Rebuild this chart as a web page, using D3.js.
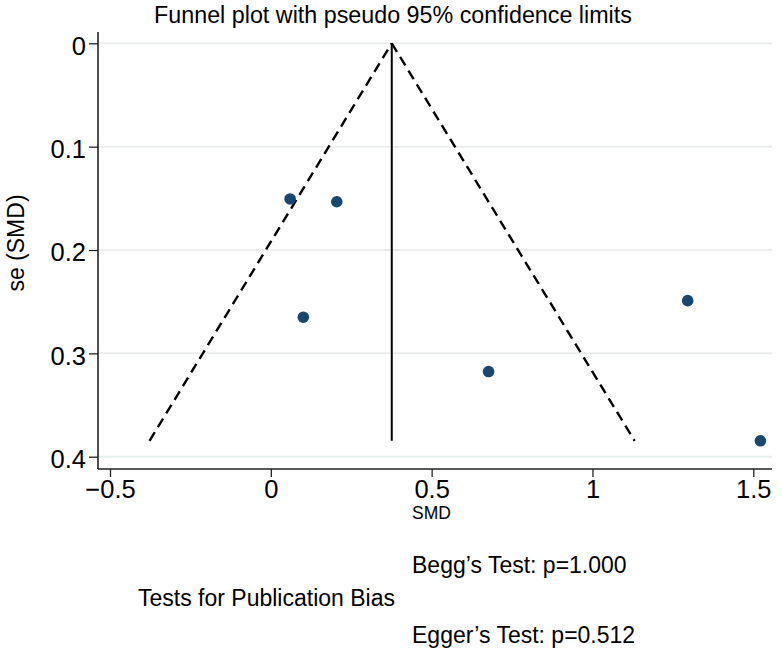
<!DOCTYPE html>
<html>
<head>
<meta charset="utf-8">
<script src="https://cdn.jsdelivr.net/npm/d3@7"></script>
<style>
  html, body { margin: 0; padding: 0; background: #fff; }
  svg text { font-family: "Liberation Sans", Arial, Helvetica, sans-serif; fill: #000; }
</style>
</head>
<body>
<svg id="chart" width="782" height="648"></svg>
<script>
// study estimates
const smd = [0.060, 0.205, 0.101, 0.677, 1.296, 1.522];
const se = [0.1506, 0.1533, 0.265, 0.3176, 0.249, 0.3846];

// pooled estimate and pseudo 95% limits (endpoints)
const pooled = 0.376;
const seMax = 0.3846;
const lowerEnd = -0.377;
const upperEnd = 1.131;

const xTicks = [-0.5, 0, 0.5, 1, 1.5];
const yTicks = [0, 0.1, 0.2, 0.3, 0.4];

const title = "Funnel plot with pseudo 95% confidence limits";
const xTitle = "SMD";
const yTitle = "se (SMD)";
const noteHead = "Tests for Publication Bias";
const noteLines = ["Begg\u2019s Test: p=1.000", "Egger\u2019s Test: p=0.512"];

const svg = d3.select("#chart");

const plotLeft = 98, plotRight = 772, plotTop = 32, plotBottom = 469;

const x = d3.scaleLinear().domain([-0.5, 1.5]).range([110, 753.3]);
const y = d3.scaleLinear().domain([0, 0.4]).range([43.3, 456.7]);

// gridlines
svg.append("g")
  .selectAll("line")
  .data(yTicks)
  .join("line")
    .attr("x1", plotLeft)
    .attr("x2", plotRight)
    .attr("y1", d => y(d))
    .attr("y2", d => y(d))
    .attr("stroke", d => d === 0.4 ? "#e6f1ee" : "#ebeded")
    .attr("stroke-width", 2);

// axes
const yAxis = svg.append("g")
  .attr("transform", `translate(${plotLeft},0)`)
  .call(d3.axisLeft(y).tickValues(yTicks).tickSize(9).tickPadding(3)
    .tickFormat(d => d === 0 ? "0" : d3.format(".1f")(d)));
yAxis.select(".domain").remove();
yAxis.selectAll(".tick line").attr("stroke", "#222").attr("stroke-width", 1.3);
yAxis.selectAll(".tick text")
  .attr("font-size", 25.5)
  .attr("dy", "0.43em")
  .attr("font-family", "Liberation Sans, Arial, sans-serif");

const xAxis = svg.append("g")
  .attr("transform", `translate(0,${plotBottom})`)
  .call(d3.axisBottom(x).tickValues(xTicks).tickSize(8).tickPadding(2.5)
    .tickFormat(d => d === 0 ? "0" : d3.format(".1~f")(d).replace("-", "\u2212")));
xAxis.select(".domain").remove();
xAxis.selectAll(".tick line").attr("stroke", "#222").attr("stroke-width", 1.3);
xAxis.selectAll(".tick text")
  .attr("font-size", 25.5)
  .attr("font-family", "Liberation Sans, Arial, sans-serif");

svg.append("line")
  .attr("x1", plotLeft).attr("x2", plotLeft)
  .attr("y1", plotTop).attr("y2", plotBottom)
  .attr("stroke", "#222").attr("stroke-width", 1.6);
svg.append("line")
  .attr("x1", plotLeft).attr("x2", plotRight)
  .attr("y1", plotBottom).attr("y2", plotBottom)
  .attr("stroke", "#222").attr("stroke-width", 1.6);

// pseudo confidence limits
const limitLines = [
  [[lowerEnd, seMax], [pooled, 0]],
  [[pooled, 0], [upperEnd, seMax]]
];
const line = d3.line().x(d => x(d[0])).y(d => y(d[1]));
svg.append("g")
  .selectAll("path")
  .data(limitLines)
  .join("path")
    .attr("d", line)
    .attr("fill", "none")
    .attr("stroke", "#000")
    .attr("stroke-width", 2.4)
    .attr("stroke-dasharray", "10,6");

// pooled estimate
svg.append("path")
  .attr("d", line([[pooled, 0], [pooled, seMax]]))
  .attr("stroke", "#000")
  .attr("stroke-width", 2);

// studies
svg.append("g")
  .selectAll("circle")
  .data(smd)
  .join("circle")
    .attr("cx", d => x(d))
    .attr("cy", (d, i) => y(se[i]))
    .attr("r", 5.8)
    .attr("fill", "#1a476f");

// titles
svg.append("text")
  .attr("x", 393).attr("y", 22.7)
  .attr("text-anchor", "middle")
  .attr("font-size", 23.3)
  .text(title);

svg.append("text")
  .attr("transform", "translate(24,243) rotate(-90)")
  .attr("text-anchor", "middle")
  .attr("font-size", 23)
  .text(yTitle);

svg.append("text")
  .attr("x", 412).attr("y", 519)
  .attr("font-size", 17.5)
  .text(xTitle);

// notes
svg.append("text")
  .attr("x", 412).attr("y", 573)
  .attr("font-size", 23)
  .text(noteLines[0]);
svg.append("text")
  .attr("x", 138).attr("y", 605.5)
  .attr("font-size", 23)
  .text(noteHead);
svg.append("text")
  .attr("x", 412).attr("y", 643)
  .attr("font-size", 23)
  .text(noteLines[1]);
</script>
</body>
</html>
